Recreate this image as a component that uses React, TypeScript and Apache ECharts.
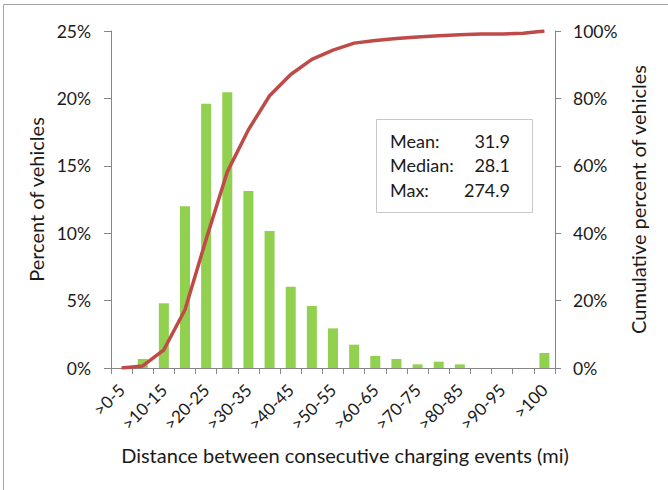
import React, { useEffect, useRef } from "react";
import * as echarts from "echarts";

const categories = [
  ">0-5", ">5-10", ">10-15", ">15-20", ">20-25", ">25-30", ">30-35", ">35-40",
  ">40-45", ">45-50", ">50-55", ">55-60", ">60-65", ">65-70", ">70-75", ">75-80",
  ">80-85", ">85-90", ">90-95", ">95-100", ">100",
];
const percentVehicles = [
  0, 0.67, 4.8, 12.0, 19.6, 20.45, 13.13, 10.16, 6.03, 4.6, 2.94, 1.73, 0.89,
  0.67, 0.27, 0.47, 0.27, 0, 0, 0, 1.11,
];
const cumulativePercent = [
  0, 0.6, 5.4, 17.3, 38.2, 58.2, 70.7, 80.8, 87.1, 91.6, 94.3, 96.4, 97.2,
  97.8, 98.2, 98.6, 98.9, 99.1, 99.1, 99.3, 100,
];
const statLabels = ["Mean:", "Median:", "Max:"];
const statValues = ["31.9", "28.1", "274.9"];

const FONT = "Lato, 'Liberation Sans', sans-serif";
const TXT = "#1a1a1a";
const AXIS = "#868686";

export default function App() {
  const ref = useRef<HTMLDivElement>(null);
  useEffect(() => {
    if (!ref.current) return;
    const chart = echarts.init(ref.current, undefined, { renderer: "svg" });
    const statTexts: any[] = [];
    statLabels.forEach((l, i) => {
      statTexts.push({
        type: "text",
        x: 390,
        y: 140.5 + i * 24.7,
        z: 20,
        style: { text: l, fontSize: 18, fontFamily: FONT, fill: TXT, align: "left", verticalAlign: "middle" },
      });
      statTexts.push({
        type: "text",
        x: 510,
        y: 140.5 + i * 24.7,
        z: 20,
        style: { text: statValues[i], fontSize: 18, fontFamily: FONT, fill: TXT, align: "right", verticalAlign: "middle" },
      });
    });
    chart.setOption({
      animation: false,
      backgroundColor: "#ffffff",
      textStyle: { fontFamily: FONT },
      grid: { left: 111, right: 113, top: 31, bottom: 122, outerBoundsMode: "none", containLabel: false },
      xAxis: {
        type: "category",
        data: categories,
        boundaryGap: true,
        name: "Distance between consecutive charging events (mi)",
        nameLocation: "middle",
        nameGap: 77,
        nameTextStyle: { fontSize: 20, color: TXT, fontFamily: FONT, padding: [0, 0, 0, 24] },
        axisLine: { lineStyle: { color: AXIS, width: 1 } },
        axisTick: { show: true, interval: 0, length: 6, lineStyle: { color: AXIS } },
        axisLabel: { interval: 1, rotate: 45, margin: 19, fontSize: 17, color: TXT, fontFamily: FONT },
        splitLine: { show: false },
      },
      yAxis: [
        {
          type: "value",
          min: 0,
          max: 25,
          interval: 5,
          name: "Percent of vehicles",
          nameLocation: "middle",
          nameRotate: 90,
          nameGap: 60,
          nameTextStyle: { fontSize: 20, color: TXT, fontFamily: FONT },
          axisLine: { show: true, lineStyle: { color: AXIS, width: 1 } },
          axisTick: { show: true, length: 7, lineStyle: { color: AXIS } },
          axisLabel: { formatter: "{value}%", margin: 20, fontSize: 17.5, color: TXT, fontFamily: FONT },
          splitLine: { show: false },
        },
        {
          type: "value",
          min: 0,
          max: 100,
          interval: 20,
          position: "right",
          name: "Cumulative percent of vehicles",
          nameLocation: "middle",
          nameRotate: 90,
          nameGap: 73,
          nameTextStyle: { fontSize: 20, color: TXT, fontFamily: FONT },
          axisLine: { show: true, lineStyle: { color: AXIS, width: 1 } },
          axisTick: { show: true, length: 6, lineStyle: { color: AXIS } },
          axisLabel: { formatter: "{value}%", margin: 18, fontSize: 17.5, color: TXT, fontFamily: FONT },
          splitLine: { show: false },
        },
      ],
      series: [
        {
          type: "bar",
          name: "Percent of vehicles",
          data: percentVehicles,
          yAxisIndex: 0,
          barWidth: 10,
          itemStyle: { color: "#92D050" },
        },
        {
          type: "line",
          name: "Cumulative percent of vehicles",
          data: cumulativePercent,
          yAxisIndex: 1,
          symbol: "none",
          smooth: false,
          lineStyle: { color: "#BE4B48", width: 3.5 },
          z: 5,
        },
      ],
      graphic: [
        {
          type: "rect",
          shape: { x: 3.5, y: 4.5, width: 800, height: 800 },
          style: { fill: "none", stroke: "#a6a6a6", lineWidth: 1 },
          silent: true,
        },
        {
          type: "rect",
          shape: { x: 376.5, y: 119.5, width: 156, height: 93 },
          style: { fill: "#ffffff", stroke: "#c8c8c8", lineWidth: 1 },
          z: 10,
        },
        ...statTexts,
      ],
    });
    return () => chart.dispose();
  }, []);
  return (
    <div
      ref={ref}
      style={{ position: "fixed", left: 0, top: 0, width: 668, height: 490 }}
    />
  );
}
